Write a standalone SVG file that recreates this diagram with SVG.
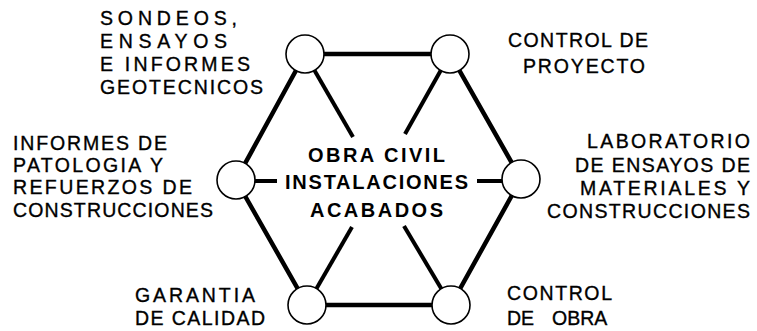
<svg xmlns="http://www.w3.org/2000/svg" width="757" height="331" viewBox="0 0 757 331">
<style>
.bg{fill:#ffffff}
.edge{stroke:#000;stroke-width:4.5;stroke-linecap:butt;fill:none}
.spoke{stroke:#000;stroke-width:4;stroke-linecap:butt;fill:none}
.node{fill:#fff;stroke:#000;stroke-width:1.6}
.lbl{font-family:"Liberation Sans",Arial,sans-serif;font-size:19.5px;fill:#000;stroke:#000;stroke-width:0.35}
.ctr{font-family:"Liberation Sans",Arial,sans-serif;font-size:20px;font-weight:bold;fill:#000}
</style>
<rect class="bg" x="0" y="0" width="757" height="331"/>
<g id="connectors">
<polyline class="edge" points="305,54 450,54 521,179 451,305 307,305 236,180 305,54"/>
<line class="spoke" x1="305" y1="54" x2="353" y2="137"/>
<line class="spoke" x1="450" y1="54" x2="405" y2="134"/>
<line class="spoke" x1="307" y1="305" x2="352" y2="227"/>
<line class="spoke" x1="451" y1="305" x2="404" y2="226"/>
<line class="spoke" x1="236" y1="181" x2="277" y2="181"/>
<line class="spoke" x1="477" y1="181" x2="521" y2="181"/>
</g>
<g id="center">
<text class="ctr" x="308" y="162" textLength="137" lengthAdjust="spacing">OBRA CIVIL</text>
<text class="ctr" x="285" y="189" textLength="183" lengthAdjust="spacing">INSTALACIONES</text>
<text class="ctr" x="310" y="217" textLength="133" lengthAdjust="spacing">ACABADOS</text>
</g>
<g id="node-sondeos">
<circle class="node" cx="305" cy="54" r="19"/>
<text class="lbl" x="100" y="25" textLength="137" lengthAdjust="spacing">SONDEOS,</text>
<text class="lbl" x="100" y="48" textLength="127" lengthAdjust="spacing">ENSAYOS</text>
<text class="lbl" x="100" y="71" textLength="150" lengthAdjust="spacing">E INFORMES</text>
<text class="lbl" x="100" y="94" textLength="163" lengthAdjust="spacing">GEOTECNICOS</text>
</g>
<g id="node-proyecto">
<circle class="node" cx="450" cy="54" r="19"/>
<text class="lbl" x="508" y="47" textLength="140" lengthAdjust="spacing">CONTROL DE</text>
<text class="lbl" x="523" y="73" textLength="122" lengthAdjust="spacing">PROYECTO</text>
</g>
<g id="node-patologia">
<circle class="node" cx="236" cy="180" r="19"/>
<text class="lbl" x="13" y="150" textLength="154" lengthAdjust="spacing">INFORMES DE</text>
<text class="lbl" x="13" y="172" textLength="150" lengthAdjust="spacing">PATOLOGIA Y</text>
<text class="lbl" x="13" y="194" textLength="179" lengthAdjust="spacing">REFUERZOS DE</text>
<text class="lbl" x="13" y="217" textLength="200" lengthAdjust="spacing">CONSTRUCCIONES</text>
</g>
<g id="node-laboratorio">
<circle class="node" cx="521" cy="179" r="19"/>
<text class="lbl" x="587" y="148" textLength="163" lengthAdjust="spacing">LABORATORIO</text>
<text class="lbl" x="575" y="172" textLength="175" lengthAdjust="spacing">DE ENSAYOS DE</text>
<text class="lbl" x="580" y="195" textLength="170" lengthAdjust="spacing">MATERIALES Y</text>
<text class="lbl" x="547" y="218" textLength="203" lengthAdjust="spacing">CONSTRUCCIONES</text>
</g>
<g id="node-garantia">
<circle class="node" cx="307" cy="305" r="19"/>
<text class="lbl" x="135" y="302" textLength="120" lengthAdjust="spacing">GARANTIA</text>
<text class="lbl" x="135" y="325" textLength="130" lengthAdjust="spacing">DE CALIDAD</text>
</g>
<g id="node-obra">
<circle class="node" cx="451" cy="305" r="19"/>
<text class="lbl" x="507" y="300" textLength="105" lengthAdjust="spacing">CONTROL</text>
<text class="lbl" y="325"><tspan x="507">DE</tspan><tspan x="552">OBRA</tspan></text>
</g>
</svg>
